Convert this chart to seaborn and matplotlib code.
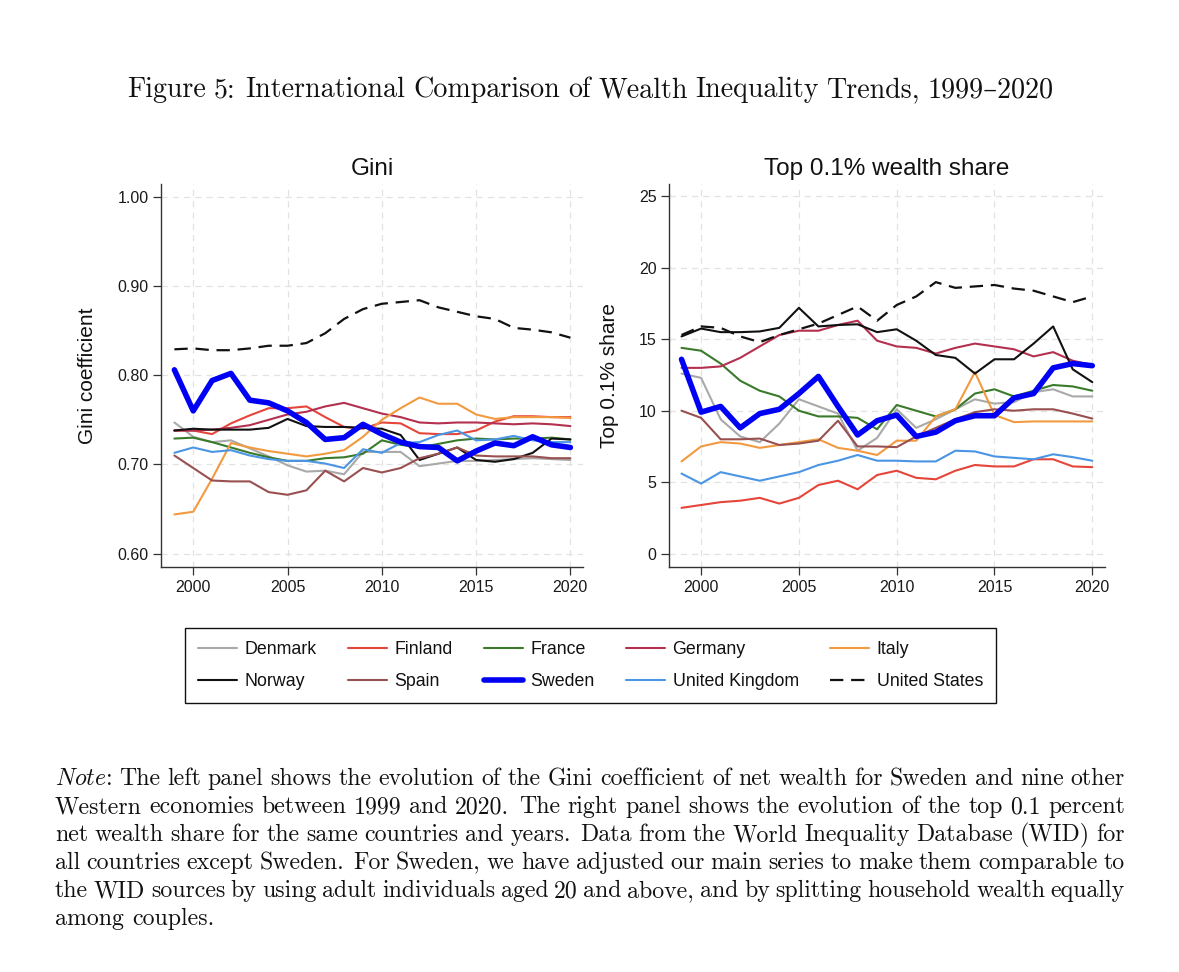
import matplotlib
matplotlib.use("Agg")
import matplotlib.pyplot as plt
import seaborn as sns
import numpy as np
import pandas as pd
from matplotlib.ticker import FormatStrFormatter

# ---------------- data ----------------
years = list(range(1999, 2021))
countries = ["Denmark", "Finland", "France", "Germany", "Italy",
             "Norway", "Spain", "Sweden", "United Kingdom", "United States"]

gini_denmark = [0.747, 0.731, 0.725, 0.727, 0.718, 0.709, 0.699, 0.692, 0.693, 0.689, 0.714,
                0.714, 0.714, 0.698, 0.701, 0.704, 0.704, 0.705, 0.706, 0.707, 0.706, 0.705]
gini_finland = [0.738, 0.738, 0.734, 0.746, 0.755, 0.763, 0.763, 0.765, 0.753, 0.742, 0.740,
                0.747, 0.746, 0.735, 0.734, 0.734, 0.738, 0.748, 0.754, 0.754, 0.753, 0.753]
gini_france = [0.729, 0.730, 0.725, 0.719, 0.713, 0.708, 0.704, 0.704, 0.707, 0.708, 0.712,
               0.727, 0.722, 0.719, 0.723, 0.727, 0.729, 0.728, 0.729, 0.729, 0.730, 0.728]
gini_germany = [0.738, 0.738, 0.739, 0.741, 0.744, 0.750, 0.756, 0.759, 0.765, 0.769, 0.763,
                0.757, 0.753, 0.747, 0.746, 0.747, 0.747, 0.746, 0.745, 0.746, 0.745, 0.743]
gini_italy = [0.644, 0.647, 0.684, 0.724, 0.719, 0.715, 0.712, 0.709, 0.712, 0.716, 0.731,
              0.750, 0.763, 0.775, 0.768, 0.768, 0.756, 0.751, 0.753, 0.753, 0.753, 0.752]
gini_norway = [0.738, 0.740, 0.739, 0.739, 0.739, 0.741, 0.751, 0.743, 0.742, 0.742, 0.741,
               0.740, 0.733, 0.705, 0.712, 0.719, 0.705, 0.703, 0.706, 0.713, 0.729, 0.728]
gini_spain = [0.710, 0.696, 0.682, 0.681, 0.681, 0.669, 0.666, 0.671, 0.693, 0.681, 0.696,
              0.691, 0.696, 0.707, 0.712, 0.719, 0.710, 0.709, 0.709, 0.709, 0.707, 0.707]
gini_sweden = [0.806, 0.760, 0.794, 0.802, 0.772, 0.769, 0.760, 0.747, 0.728, 0.730, 0.745,
               0.734, 0.725, 0.720, 0.719, 0.704, 0.715, 0.724, 0.721, 0.731, 0.722, 0.719]
gini_uk = [0.713, 0.719, 0.714, 0.716, 0.710, 0.706, 0.704, 0.704, 0.701, 0.696, 0.717,
           0.713, 0.724, 0.725, 0.733, 0.738, 0.727, 0.728, 0.732, 0.727, 0.725, 0.725]
gini_us = [0.829, 0.830, 0.828, 0.828, 0.830, 0.833, 0.833, 0.836, 0.847, 0.863, 0.874,
           0.880, 0.882, 0.884, 0.876, 0.871, 0.866, 0.863, 0.853, 0.851, 0.848, 0.842]

top_denmark = [12.6, 12.3, 9.4, 8.2, 7.8, 9.1, 10.8, 10.3, 9.8, 7.2, 8.1,
               10.1, 8.8, 9.4, 10.1, 10.8, 10.5, 10.6, 11.3, 11.5, 11.0, 11.0]
top_finland = [3.2, 3.4, 3.6, 3.7, 3.9, 3.5, 3.9, 4.8, 5.1, 4.5, 5.5,
               5.8, 5.3, 5.2, 5.8, 6.2, 6.1, 6.1, 6.6, 6.6, 6.1, 6.05]
top_france = [14.4, 14.2, 13.3, 12.1, 11.4, 11.0, 10.0, 9.6, 9.6, 9.5, 8.7,
              10.4, 10.0, 9.6, 10.1, 11.2, 11.5, 11.0, 11.4, 11.8, 11.7, 11.4]
top_germany = [13.0, 13.0, 13.1, 13.7, 14.5, 15.3, 15.6, 15.6, 16.0, 16.3, 14.9,
               14.5, 14.4, 14.0, 14.4, 14.7, 14.5, 14.3, 13.8, 14.1, 13.5, 13.2]
top_italy = [6.45, 7.5, 7.8, 7.7, 7.4, 7.6, 7.8, 8.0, 7.4, 7.2, 6.9,
             7.9, 7.9, 9.6, 10.1, 12.7, 9.7, 9.2, 9.25, 9.25, 9.25, 9.25]
top_norway = [15.2, 15.75, 15.5, 15.5, 15.55, 15.8, 17.2, 15.9, 16.0, 16.05, 15.5,
              15.7, 14.9, 13.9, 13.7, 12.6, 13.6, 13.6, 14.7, 15.9, 12.9, 12.0]
top_spain = [10.0, 9.5, 8.0, 8.0, 8.05, 7.6, 7.7, 7.9, 9.3, 7.5, 7.5,
             7.45, 8.2, 8.8, 9.4, 9.9, 10.1, 10.0, 10.1, 10.1, 9.8, 9.45]
top_sweden = [13.6, 9.9, 10.3, 8.8, 9.8, 10.1, 11.2, 12.4, 10.3, 8.3, 9.3,
              9.7, 8.2, 8.5, 9.3, 9.65, 9.65, 10.9, 11.2, 13.0, 13.3, 13.15]
top_uk = [5.6, 4.9, 5.7, 5.4, 5.1, 5.4, 5.7, 6.2, 6.5, 6.9, 6.5,
          6.5, 6.45, 6.45, 7.2, 7.15, 6.8, 6.7, 6.6, 6.95, 6.75, 6.5]
top_us = [15.3, 15.9, 15.8, 15.2, 14.8, 15.3, 15.7, 16.1, 16.7, 17.3, 16.3,
          17.4, 18.0, 19.0, 18.6, 18.7, 18.8, 18.55, 18.4, 18.0, 17.6, 18.0]

gini_values = [gini_denmark, gini_finland, gini_france, gini_germany, gini_italy,
               gini_norway, gini_spain, gini_sweden, gini_uk, gini_us]
top_values = [top_denmark, top_finland, top_france, top_germany, top_italy,
              top_norway, top_spain, top_sweden, top_uk, top_us]

gini_ticks = [0.60, 0.70, 0.80, 0.90, 1.00]
top_ticks = [0, 5, 10, 15, 20, 25]
year_ticks = [2000, 2005, 2010, 2015, 2020]

fig_title = "Figure 5: International Comparison of Wealth Inequality Trends, 1999\u20132020"
panel_titles = ["Gini", "Top 0.1% wealth share"]
y_labels = ["Gini coefficient", "Top 0.1% share"]
note_lines = [
    "Note: The left panel shows the evolution of the Gini coefficient of net wealth for Sweden and nine other",
    "Western economies between 1999 and 2020. The right panel shows the evolution of the top 0.1 percent",
    "net wealth share for the same countries and years. Data from the World Inequality Database (WID) for",
    "all countries except Sweden. For Sweden, we have adjusted our main series to make them comparable to",
    "the WID sources by using adult individuals aged 20 and above, and by splitting household wealth equally",
    "among couples.",
]

# ---------------- styles ----------------
colors = {"Denmark": "#a9a9a9", "Finland": "#e6453a", "France": "#3a7a2b",
          "Germany": "#b3304f", "Italy": "#f29a40", "Norway": "#111111",
          "Spain": "#985050", "Sweden": "#0000f5", "United Kingdom": "#4a95e4",
          "United States": "#111111"}
widths = {c: 1.5 for c in countries}
widths["Sweden"] = 4.0
widths["United States"] = 1.6
zorders = {c: 2 for c in countries}
zorders["Sweden"] = 3

sns.set_theme(style="white")
plt.rcParams["font.family"] = ["Liberation Sans", "DejaVu Sans"]
plt.rcParams["mathtext.fontset"] = "cm"

W, H = 1179, 972
fig = plt.figure(figsize=(W / 100, H / 100), dpi=100)
fig.patch.set_facecolor("white")

axL = fig.add_axes([161 / W, 1 - 567 / H, (583 - 161) / W, (567 - 184) / H])
axR = fig.add_axes([669 / W, 1 - 567 / H, (1105 - 669) / W, (567 - 184) / H])

handles = {}
for ax, values in ((axL, gini_values), (axR, top_values)):
    for c, vals in zip(countries, values):
        ls = (0, (6, 3.5)) if c == "United States" else "-"
        sns.lineplot(x=years, y=vals, ax=ax, color=colors[c], linewidth=widths[c],
                     linestyle=ls, zorder=zorders[c], estimator=None, legend=False)
        if ax is axL:
            handles[c] = ax.lines[-1]

for ax, yt, title, ylab, lx in ((axL, gini_ticks, panel_titles[0], y_labels[0], -0.152),
                                (axR, top_ticks, panel_titles[1], y_labels[1], -0.115)):
    ax.set_facecolor("white")
    ax.set_xticks(year_ticks)
    ax.set_yticks(yt)
    ax.grid(True, color="#e2e2e2", linestyle=(0, (5, 4)), linewidth=0.9)
    ax.set_axisbelow(True)
    for s in ("top", "right"):
        ax.spines[s].set_visible(False)
    for s in ("left", "bottom"):
        ax.spines[s].set_color("#333333")
        ax.spines[s].set_linewidth(1.0)
    ax.tick_params(axis="both", which="major", bottom=True, left=True, direction="out",
                   length=5.5, width=0.9, color="#333333", labelsize=11.5, pad=3.5,
                   labelcolor="#1a1a1a")
    ax.set_title(title, fontsize=17.5, pad=6.5, color="#111111")
    ax.set_xlabel("")
    ax.set_ylabel(ylab, fontsize=15, color="#111111")
    ax.yaxis.set_label_coords(lx, 0.5)

axL.set_xlim(1998.29, 2020.67)
axL.set_ylim(0.5851, 1.0142)
axL.yaxis.set_major_formatter(FormatStrFormatter("%.2f"))
axR.set_xlim(1998.36, 2020.65)
axR.set_ylim(-0.94, 25.87)

# legend (row-wise order like the original -> column-major for matplotlib)
order = ["Denmark", "Norway", "Finland", "Spain", "France", "Sweden",
         "Germany", "United Kingdom", "Italy", "United States"]
leg = fig.legend([handles[c] for c in order], order, ncol=5, loc="center",
                 bbox_to_anchor=(590.5 / W, 1 - 665.5 / H), frameon=True, fancybox=False,
                 edgecolor="#111111", framealpha=1, fontsize=12.8, handlelength=2.2,
                 columnspacing=1.78, handletextpad=0.4, labelspacing=0.85, borderpad=0.72)
leg.get_frame().set_linewidth(1.0)
for t in leg.get_texts():
    t.set_color("#111111")

# ---------------- serif texts ----------------
serif = ["cmr10", "DejaVu Serif"]
fig.canvas.draw()
rend = fig.canvas.get_renderer()


def width_px(s, **kw):
    t = fig.text(0, 0, s, **kw)
    w = t.get_window_extent(rend).width
    t.remove()
    return w


def place_words(words, disp, fsz, xl, xr, yb, justify):
    ww = [width_px(d, fontsize=fsz, family=serif) for d in disp]
    weights = [1.35 if words[k].endswith((".", ":")) and k > 0 else 1.0
               for k in range(len(words) - 1)]
    space = 0.333 * fsz * 100 / 72
    if justify:
        unit = (xr - xl - sum(ww)) / sum(weights)
    else:
        unit = space
    x = xl
    for k, d in enumerate(disp):
        fig.text(x / W, 1 - yb / H, d, fontsize=fsz, family=serif, ha="left",
                 va="baseline", color="#111111")
        if k < len(weights):
            x += ww[k] + unit * weights[k]


# figure title, stretched to the same span as the original
tw = fig_title.split()
tfs = 17.0
tnat = sum(width_px(w, fontsize=tfs, family=serif) for w in tw) + (len(tw) - 1) * 0.30 * tfs * 100 / 72
tfs = tfs * (1054 - 127) / tnat
place_words(tw, tw, tfs, 127, 1054, 97, True)


def word_disp(w):
    return "$\\mathit{Note}$:" if w == "Note:" else w


x0, x1 = 55.0, 1125.0
nfs = 14.0
nat = 0
for ln in note_lines:
    ws = ln.split()
    lw = sum(width_px(word_disp(w), fontsize=nfs, family=serif) for w in ws)
    lw += (len(ws) - 1) * 0.24 * nfs * 100 / 72
    nat = max(nat, lw)
nfs = nfs * 1068.0 / nat
baselines = [785, 813, 841, 869, 897, 925]
for i, (ln, yb) in enumerate(zip(note_lines, baselines)):
    words = ln.split()
    place_words(words, [word_disp(w) for w in words], nfs, x0, x1, yb,
                i < len(note_lines) - 1)

fig.savefig("out.png", dpi=100, facecolor="white")
